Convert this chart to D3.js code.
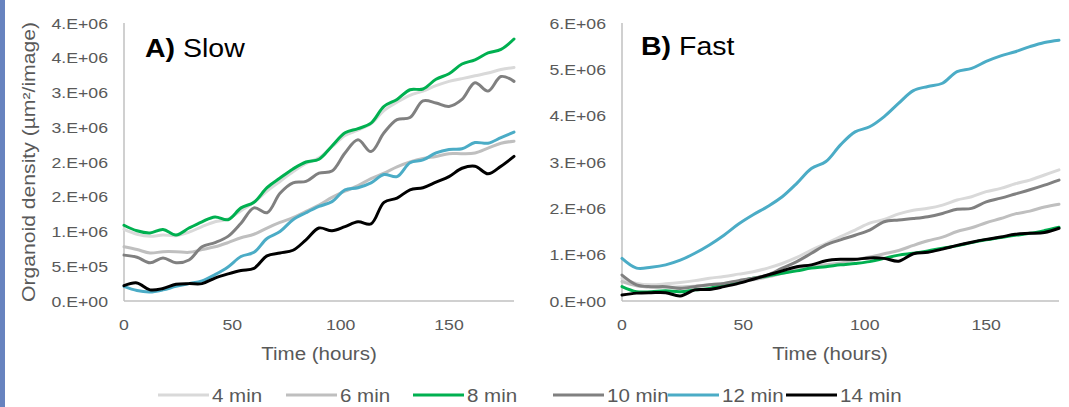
<!DOCTYPE html>
<html>
<head>
<meta charset="utf-8">
<script src="https://cdn.jsdelivr.net/npm/d3@7"></script>
<style>
  body { margin: 0; background: #fff; }
  svg { display: block; font-family: "Liberation Sans", Arial, sans-serif; }
</style>
</head>
<body>
<svg id="chart" width="1069" height="407"></svg>
<script>
const width = 1069
const height = 407

// hours
const hours = [0, 6, 12, 18, 24, 30, 36, 42, 48, 54, 60, 66, 72, 78, 84, 90, 96, 102, 108, 114, 120, 126, 132, 138, 144, 150, 156, 162, 168, 174, 180]
const seriesNames = ['4 min', '6 min', '8 min', '10 min', '12 min', '14 min']
const seriesColors = ['#d9d9d9', '#bfbfbf', '#00b050', '#808080', '#4bacc6', '#000000']

// values in millions of µm²/image
const slow4 = [1.03, 0.96, 0.93, 0.95, 0.94, 0.99, 1.07, 1.14, 1.18, 1.30, 1.42, 1.58, 1.72, 1.86, 1.98, 2.06, 2.22, 2.38, 2.46, 2.55, 2.74, 2.86, 2.96, 3.02, 3.10, 3.16, 3.20, 3.24, 3.28, 3.33, 3.36]
const slow6 = [0.78, 0.74, 0.69, 0.71, 0.71, 0.70, 0.74, 0.78, 0.84, 0.91, 0.96, 1.05, 1.13, 1.20, 1.29, 1.38, 1.49, 1.58, 1.66, 1.76, 1.84, 1.93, 2.00, 2.05, 2.08, 2.12, 2.12, 2.13, 2.20, 2.27, 2.30]
const slow8 = [1.09, 1.01, 0.98, 1.03, 0.95, 1.05, 1.14, 1.21, 1.17, 1.34, 1.42, 1.63, 1.77, 1.90, 2.00, 2.04, 2.23, 2.42, 2.48, 2.56, 2.80, 2.90, 3.04, 3.05, 3.19, 3.27, 3.41, 3.47, 3.57, 3.62, 3.77]
const slow10 = [0.66, 0.63, 0.55, 0.62, 0.55, 0.59, 0.78, 0.84, 0.93, 1.12, 1.34, 1.27, 1.55, 1.70, 1.72, 1.84, 1.87, 2.13, 2.32, 2.15, 2.42, 2.61, 2.64, 2.88, 2.85, 2.80, 2.90, 3.14, 3.02, 3.23, 3.16]
const slow12 = [0.21, 0.15, 0.13, 0.16, 0.21, 0.25, 0.29, 0.38, 0.49, 0.64, 0.70, 0.90, 1.00, 1.17, 1.27, 1.36, 1.43, 1.60, 1.63, 1.70, 1.82, 1.79, 1.99, 2.03, 2.13, 2.18, 2.19, 2.28, 2.27, 2.35, 2.43]
const slow14 = [0.22, 0.26, 0.16, 0.18, 0.24, 0.25, 0.25, 0.33, 0.39, 0.44, 0.47, 0.65, 0.69, 0.73, 0.88, 1.05, 1.01, 1.07, 1.14, 1.11, 1.42, 1.48, 1.60, 1.63, 1.71, 1.79, 1.91, 1.94, 1.83, 1.94, 2.08]

const fast4 = [0.49, 0.38, 0.35, 0.37, 0.40, 0.44, 0.49, 0.53, 0.58, 0.63, 0.71, 0.81, 0.94, 1.10, 1.24, 1.39, 1.53, 1.68, 1.76, 1.88, 1.96, 2.00, 2.07, 2.18, 2.25, 2.36, 2.43, 2.53, 2.61, 2.72, 2.83]
const fast6 = [0.42, 0.33, 0.30, 0.30, 0.30, 0.32, 0.35, 0.38, 0.42, 0.46, 0.52, 0.60, 0.68, 0.74, 0.78, 0.82, 0.89, 0.95, 1.02, 1.09, 1.20, 1.30, 1.38, 1.50, 1.58, 1.69, 1.78, 1.88, 1.94, 2.03, 2.09]
const fast8 = [0.31, 0.20, 0.20, 0.22, 0.20, 0.24, 0.27, 0.35, 0.42, 0.49, 0.54, 0.60, 0.65, 0.71, 0.74, 0.78, 0.81, 0.85, 0.92, 0.99, 1.03, 1.08, 1.14, 1.19, 1.26, 1.32, 1.37, 1.42, 1.46, 1.52, 1.59]
const fast10 = [0.56, 0.35, 0.31, 0.31, 0.27, 0.31, 0.35, 0.38, 0.44, 0.49, 0.56, 0.71, 0.85, 1.03, 1.21, 1.32, 1.42, 1.53, 1.71, 1.75, 1.78, 1.82, 1.89, 1.98, 2.00, 2.14, 2.22, 2.31, 2.40, 2.50, 2.61]
const fast12 = [0.92, 0.71, 0.73, 0.78, 0.88, 1.03, 1.21, 1.42, 1.66, 1.86, 2.04, 2.25, 2.54, 2.86, 3.01, 3.37, 3.65, 3.76, 3.98, 4.27, 4.54, 4.63, 4.70, 4.95, 5.02, 5.17, 5.29, 5.38, 5.49, 5.58, 5.63]
const fast14 = [0.13, 0.17, 0.18, 0.18, 0.11, 0.24, 0.25, 0.31, 0.38, 0.47, 0.56, 0.65, 0.74, 0.78, 0.87, 0.90, 0.90, 0.93, 0.92, 0.86, 1.02, 1.05, 1.12, 1.20, 1.27, 1.33, 1.38, 1.44, 1.46, 1.48, 1.57]

const xTicks = [0, 50, 100, 150]
const slowYTicks = [0, 0.5, 1, 1.5, 2, 2.5, 3, 3.5, 4]
const slowYLabels = ['0.E+00', '5.E+05', '1.E+06', '2.E+06', '2.E+06', '3.E+06', '3.E+06', '4.E+06', '4.E+06']
const fastYTicks = [0, 1, 2, 3, 4, 5, 6]
const fastYLabels = ['0.E+00', '1.E+06', '2.E+06', '3.E+06', '4.E+06', '5.E+06', '6.E+06']

const textColor = '#595959'
const stretch = 1.14

const svg = d3.select('#chart')

// widen text a bit, the reference glyphs are wider than Arial
let widen = function(sel, k) {
    sel.each(function() {
        const w = this.getComputedTextLength()
        d3.select(this).attr('textLength', w * k).attr('lengthAdjust', 'spacingAndGlyphs')
    })
}

// blue strip on the left edge
svg.append('rect')
    .attr('x', 0).attr('y', 0)
    .attr('width', 5).attr('height', height)
    .attr('fill', '#6783bf')

let drawPanel = function(p) {
    const x = d3.scaleLinear().domain([0, 180]).range([p.left, p.right])
    const y = d3.scaleLinear().domain([0, p.yMax]).range([301, 23])
    const g = svg.append('g')

    // axes lines
    g.append('line')
        .attr('x1', x(0)).attr('x2', x(0))
        .attr('y1', y(p.yMax)).attr('y2', y(0))
        .attr('stroke', '#c0c0c0').attr('stroke-width', 1.5)
    g.append('line')
        .attr('x1', x(0)).attr('x2', x(180))
        .attr('y1', y(0)).attr('y2', y(0))
        .attr('stroke', '#c0c0c0').attr('stroke-width', 1.5)

    const yl = g.selectAll('.ylab')
        .data(p.yTicks)
        .join('text')
        .attr('x', x(0) - 16)
        .attr('y', d => y(d) + 5.5)
        .attr('text-anchor', 'end')
        .attr('font-size', 15.5)
        .attr('fill', textColor)
        .text((d, i) => p.yLabels[i])
    widen(yl, stretch)

    const xl = g.selectAll('.xlab')
        .data(xTicks)
        .join('text')
        .attr('x', d => x(d))
        .attr('y', 330)
        .attr('text-anchor', 'middle')
        .attr('font-size', 15.5)
        .attr('fill', textColor)
        .text(d => d)
    widen(xl, stretch)

    const xt = g.append('text')
        .attr('x', p.titleX)
        .attr('y', 360)
        .attr('text-anchor', 'middle')
        .attr('font-size', 18)
        .attr('fill', textColor)
        .text('Time (hours)')
    widen(xt, stretch)

    const line = d3.line()
        .x((d, i) => x(hours[i]))
        .y(d => y(d))
        .curve(d3.curveCatmullRom.alpha(0.5))

    g.selectAll('.series')
        .data(p.series)
        .join('path')
        .attr('d', d => line(d))
        .attr('fill', 'none')
        .attr('stroke', (d, i) => seriesColors[i])
        .attr('stroke-width', 3)
        .attr('stroke-linejoin', 'round')
        .attr('stroke-linecap', 'round')

    const t = g.append('text')
        .attr('x', p.left + p.labelDx)
        .attr('y', p.labelY)
        .attr('font-size', 25)
        .attr('fill', '#000')
    t.append('tspan').attr('font-weight', 'bold').text(p.letter + ')')
    t.append('tspan').text(' ' + p.name)
    widen(t, stretch)
}

drawPanel({
    left: 124, right: 514, yMax: 4,
    yTicks: slowYTicks, yLabels: slowYLabels,
    series: [slow4, slow6, slow8, slow10, slow12, slow14],
    letter: 'A', name: 'Slow', labelDx: 21, labelY: 57, titleX: 319
})

drawPanel({
    left: 622, right: 1059, yMax: 6,
    yTicks: fastYTicks, yLabels: fastYLabels,
    series: [fast4, fast6, fast8, fast10, fast12, fast14],
    letter: 'B', name: 'Fast', labelDx: 19, labelY: 55, titleX: 830
})

// y axis title
svg.append('text')
    .attr('transform', 'translate(35,162) rotate(-90)')
    .attr('text-anchor', 'middle')
    .attr('font-size', 18)
    .attr('fill', textColor)
    .attr('textLength', 280)
    .attr('lengthAdjust', 'spacingAndGlyphs')
    .text('Organoid density (µm²/image)')

// legend
const legendX = [158, 286, 413, 553, 668, 786]
const legend = svg.append('g')
seriesNames.forEach((name, i) => {
    legend.append('line')
        .attr('x1', legendX[i]).attr('x2', legendX[i] + 51)
        .attr('y1', 395).attr('y2', 395)
        .attr('stroke', seriesColors[i])
        .attr('stroke-width', 3)
    const lt = legend.append('text')
        .attr('x', legendX[i] + 54)
        .attr('y', 401.5)
        .attr('font-size', 18)
        .attr('fill', textColor)
        .text(name)
    widen(lt, stretch)
})
</script>
</body>
</html>
